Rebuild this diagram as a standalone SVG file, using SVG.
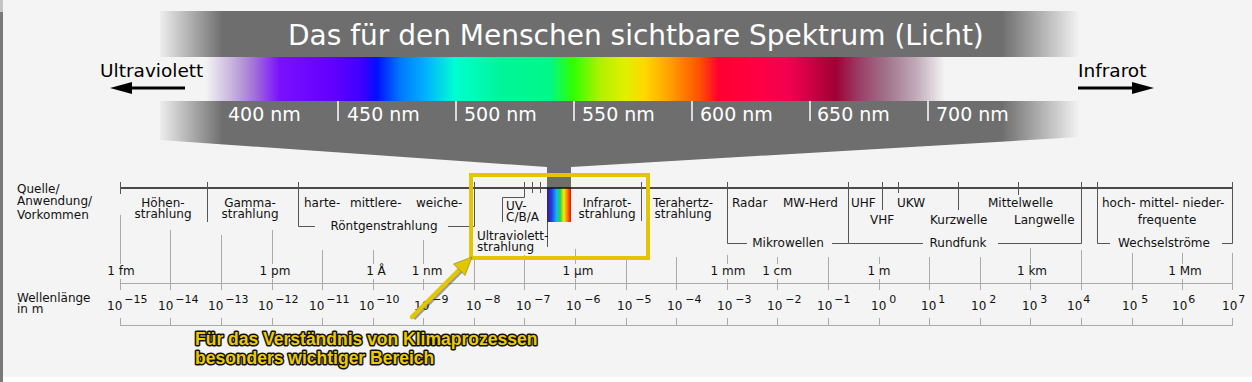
<svg xmlns="http://www.w3.org/2000/svg" width="1252" height="382" viewBox="0 0 1252 382">
<style>
.t{font-family:"DejaVu Sans",Verdana,sans-serif;font-size:12px;fill:#111}
.m{text-anchor:middle}
.nm{font-family:"DejaVu Sans",Verdana,sans-serif;font-size:19px;fill:#fff}
.ttl{font-family:"DejaVu Sans",Verdana,sans-serif;font-size:28px;fill:#fff}
.arr{font-family:"DejaVu Sans",Verdana,sans-serif;font-size:18.5px;fill:#000}
.sep{stroke:#555;stroke-width:1;fill:none}
.dec{stroke:#aaa;stroke-width:1;fill:none}
.ex{font-family:"DejaVu Sans",Verdana,sans-serif;font-size:12px;fill:#111}
.sup{font-size:11px}
.call{font-family:"Liberation Sans",Arial,sans-serif;font-weight:bold;font-size:17.5px;fill:#ebcb00;stroke:#111;stroke-width:3;stroke-linejoin:round;paint-order:stroke}
</style>
<defs>
<linearGradient id="grayFade" gradientUnits="userSpaceOnUse" x1="160" y1="0" x2="1080" y2="0">
<stop offset="0" stop-color="#6e6e6e" stop-opacity="0.05"/>
<stop offset="0.068" stop-color="#6e6e6e" stop-opacity="1"/>
<stop offset="0.915" stop-color="#6e6e6e" stop-opacity="1"/>
<stop offset="1" stop-color="#6e6e6e" stop-opacity="0"/>
</linearGradient>
<linearGradient id="spec" gradientUnits="userSpaceOnUse" x1="160" y1="0" x2="1080" y2="0">
<stop offset="0.049" stop-color="#f4f4f4"/>
<stop offset="0.078" stop-color="#c8b4dc"/>
<stop offset="0.103" stop-color="#a070d8"/>
<stop offset="0.130" stop-color="#7a10ff"/>
<stop offset="0.185" stop-color="#6400ff"/>
<stop offset="0.220" stop-color="#3c00ff"/>
<stop offset="0.236" stop-color="#0010ff"/>
<stop offset="0.261" stop-color="#0078ff"/>
<stop offset="0.288" stop-color="#00b0ff"/>
<stop offset="0.321" stop-color="#00ffd0"/>
<stop offset="0.370" stop-color="#00f59a"/>
<stop offset="0.424" stop-color="#00f888"/>
<stop offset="0.449" stop-color="#30ff00"/>
<stop offset="0.478" stop-color="#b0f000"/>
<stop offset="0.505" stop-color="#e0f000"/>
<stop offset="0.527" stop-color="#ffd800"/>
<stop offset="0.554" stop-color="#ffa000"/>
<stop offset="0.587" stop-color="#ff5000"/>
<stop offset="0.607" stop-color="#ff0030"/>
<stop offset="0.652" stop-color="#ff0045"/>
<stop offset="0.685" stop-color="#f00050"/>
<stop offset="0.734" stop-color="#a00035"/>
<stop offset="0.761" stop-color="#9a4068"/>
<stop offset="0.788" stop-color="#a07088"/>
<stop offset="0.821" stop-color="#c0a8b8"/>
<stop offset="0.853" stop-color="#f4f4f4"/>
</linearGradient>
<linearGradient id="mini" x1="0" y1="0" x2="1" y2="0">
<stop offset="0" stop-color="#3a1a8a"/>
<stop offset="0.2" stop-color="#2040e8"/>
<stop offset="0.4" stop-color="#10b8f0"/>
<stop offset="0.55" stop-color="#30d040"/>
<stop offset="0.7" stop-color="#f4f000"/>
<stop offset="0.82" stop-color="#ff9000"/>
<stop offset="1" stop-color="#e81010"/>
</linearGradient>
</defs>
<rect x="0" y="0" width="1252" height="382" fill="#f4f4f4"/>
<rect x="0" y="377" width="1252" height="5" fill="#ffffff"/>
<rect x="0" y="0" width="3" height="382" fill="#7a7a7a"/>
<rect x="0" y="0" width="3" height="12" fill="#c4c4c4"/>

<g id="banner">
<path d="M160,11 H1080 V137 L571,167 V188 H547 V167 L160,140 Z" fill="url(#grayFade)"/>
<rect x="160" y="57" width="920" height="44" fill="url(#spec)"/>
<text class="ttl" x="288" y="45">Das für den Menschen sichtbare Spektrum (Licht)</text>
<g stroke="#fff" stroke-width="1.5">
<line x1="338" y1="101" x2="338" y2="121"/>
<line x1="456" y1="101" x2="456" y2="121"/>
<line x1="574" y1="101" x2="574" y2="121"/>
<line x1="692" y1="101" x2="692" y2="121"/>
<line x1="810" y1="101" x2="810" y2="121"/>
<line x1="928" y1="101" x2="928" y2="121"/>
</g>
<text class="nm" x="228" y="121">400 nm</text>
<text class="nm" x="347" y="121">450 nm</text>
<text class="nm" x="464" y="121">500 nm</text>
<text class="nm" x="582" y="121">550 nm</text>
<text class="nm" x="700" y="121">600 nm</text>
<text class="nm" x="817" y="121">650 nm</text>
<text class="nm" x="936" y="121">700 nm</text>
<rect x="547" y="188" width="24" height="34" fill="url(#mini)"/>
</g>

<g id="uv-arrow">
<text class="arr" x="100" y="77">Ultraviolett</text>
<line x1="185" y1="88" x2="128" y2="88" stroke="#000" stroke-width="3"/>
<polygon points="110,88 132,82 132,94" fill="#000"/>
</g>
<g id="ir-arrow">
<text class="arr" x="1078" y="77">Infrarot</text>
<line x1="1078" y1="88" x2="1136" y2="88" stroke="#000" stroke-width="3"/>
<polygon points="1154,88 1132,82 1132,94" fill="#000"/>
</g>

<g id="row-labels">
<text class="t" x="17" y="193">Quelle/</text>
<text class="t" x="17" y="205">Anwendung/</text>
<text class="t" x="17" y="219">Vorkommen</text>
<text class="t" x="17" y="302">Wellenlänge</text>
<text class="t" x="17" y="313">in m</text>
</g>

<g id="connectors">
<line x1="120" y1="188" x2="1233" y2="188" stroke="#111" stroke-width="1.5"/>
<path class="sep" d="M120.5,182V194 M207.5,182V222 M298.5,182V226.5H315 M448,226.5H474.5V182 M502.5,222V197.5H524.5V182 M532.5,182V193 M540.5,182V193 M547.5,222V247 M641.5,182V221 M727.5,182V243.5H747 M832,243.5H848.5V182 M848.5,243.5H923 M882.5,182V210 M898.5,182V193 M958.5,182V210 M1018.5,182V195 M998,243.5H1081.5V182 M1097.5,182V243.5H1110 M1222,243.5H1232.5V182"/>
<path class="dec" d="M120.5,215V264M120.5,279V290 M170.5,230V290 M221.5,235V290 M272.5,230V264M272.5,279V290 M322.5,250V290 M373.5,250V264M373.5,279V290 M423.5,240V264M423.5,279V290 M474.5,257V290 M524.5,255V290 M575.5,249V264M575.5,279V290 M626.5,257V290 M676.5,257V290 M727.5,255V264M727.5,279V290 M777.5,257V264M777.5,279V290 M828.5,257V290 M879.5,257V264M879.5,279V290 M929.5,257V290 M980.5,257V290 M1030.5,248V264M1030.5,279V290 M1081.5,250V290 M1132.5,253V290 M1182.5,253V264M1182.5,279V290 M1232.5,253V290"/>
<path class="dec" d="M120,283.5H1233 M120,325.5H1233"/>
<path class="dec" d="M120.5,318V325 M170.5,318V325 M221.5,318V325 M272.5,318V325 M322.5,318V325 M373.5,318V325 M423.5,318V325 M474.5,318V325 M524.5,318V325 M575.5,318V325 M626.5,318V325 M676.5,318V325 M727.5,318V325 M777.5,318V325 M828.5,318V325 M879.5,318V325 M929.5,318V325 M980.5,318V325 M1030.5,318V325 M1081.5,318V325 M1132.5,318V325 M1182.5,318V325 M1232.5,318V325"/>
</g>

<g id="hoehen"><text class="t m" x="163" y="207">Höhen-</text><text class="t m" x="163" y="218">strahlung</text></g>
<g id="gamma"><text class="t m" x="250" y="207">Gamma-</text><text class="t m" x="250" y="218">strahlung</text></g>
<g id="roentgen">
<text class="t" x="304" y="207">harte-</text>
<text class="t" x="350" y="207">mittlere-</text>
<text class="t" x="416" y="207">weiche-</text>
<text class="t m" x="384" y="230">Röntgenstrahlung</text>
</g>
<g id="uv-cba"><text class="t" x="506" y="210">UV-</text><text class="t" x="506" y="221">C/B/A</text></g>
<g id="uv"><text class="t" x="477" y="240">Ultraviolett-</text><text class="t" x="477" y="251">strahlung</text></g>
<g id="infrarot"><text class="t m" x="607" y="207">Infrarot-</text><text class="t m" x="607" y="218">strahlung</text></g>
<g id="terahertz"><text class="t m" x="683" y="207">Terahertz-</text><text class="t m" x="683" y="218">strahlung</text></g>
<g id="mikrowellen">
<text class="t" x="732" y="207">Radar</text>
<text class="t" x="783" y="207">MW-Herd</text>
<text class="t m" x="788" y="247">Mikrowellen</text>
</g>
<g id="rundfunk">
<text class="t" x="851" y="207">UHF</text>
<text class="t" x="870" y="224">VHF</text>
<text class="t" x="897" y="207">UKW</text>
<text class="t" x="930" y="224">Kurzwelle</text>
<text class="t" x="988" y="207">Mittelwelle</text>
<text class="t" x="1014" y="224">Langwelle</text>
<text class="t m" x="958" y="247">Rundfunk</text>
</g>
<g id="wechsel">
<text class="t" x="1102" y="207">hoch- mittel- nieder-</text>
<text class="t m" x="1167" y="224">frequente</text>
<text class="t m" x="1164" y="247">Wechselströme</text>
</g>

<g id="units">
<text class="t m" x="121" y="275">1 fm</text>
<text class="t m" x="275" y="275">1 pm</text>
<text class="t m" x="376" y="275">1 Å</text>
<text class="t m" x="427" y="275">1 nm</text>
<text class="t m" x="578" y="275">1 μm</text>
<text class="t m" x="728" y="275">1 mm</text>
<text class="t m" x="777" y="275">1 cm</text>
<text class="t m" x="879" y="275">1 m</text>
<text class="t m" x="1032" y="275">1 km</text>
<text class="t m" x="1185" y="275">1 Mm</text>
</g>

<g id="exponents">
<text class="ex" x="107" y="310">10<tspan class="sup" dx="2" dy="-7">−15</tspan></text>
<text class="ex" x="158" y="310">10<tspan class="sup" dx="2" dy="-7">−14</tspan></text>
<text class="ex" x="208" y="310">10<tspan class="sup" dx="2" dy="-7">−13</tspan></text>
<text class="ex" x="258" y="310">10<tspan class="sup" dx="2" dy="-7">−12</tspan></text>
<text class="ex" x="309" y="310">10<tspan class="sup" dx="2" dy="-7">−11</tspan></text>
<text class="ex" x="359" y="310">10<tspan class="sup" dx="2" dy="-7">−10</tspan></text>
<text class="ex" x="414" y="310">10<tspan class="sup" dx="3" dy="-7">−9</tspan></text>
<text class="ex" x="466" y="310">10<tspan class="sup" dx="3" dy="-7">−8</tspan></text>
<text class="ex" x="516" y="310">10<tspan class="sup" dx="3" dy="-7">−7</tspan></text>
<text class="ex" x="566" y="310">10<tspan class="sup" dx="3" dy="-7">−6</tspan></text>
<text class="ex" x="617" y="310">10<tspan class="sup" dx="3" dy="-7">−5</tspan></text>
<text class="ex" x="667" y="310">10<tspan class="sup" dx="3" dy="-7">−4</tspan></text>
<text class="ex" x="717" y="310">10<tspan class="sup" dx="3" dy="-7">−3</tspan></text>
<text class="ex" x="767" y="310">10<tspan class="sup" dx="3" dy="-7">−2</tspan></text>
<text class="ex" x="817" y="310">10<tspan class="sup" dx="2" dy="-7">−1</tspan></text>
<text class="ex" x="871" y="310">10<tspan class="sup" dx="3" dy="-7">0</tspan></text>
<text class="ex" x="921" y="310">10<tspan class="sup" dx="2" dy="-7">1</tspan></text>
<text class="ex" x="971" y="310">10<tspan class="sup" dx="3" dy="-7">2</tspan></text>
<text class="ex" x="1022" y="310">10<tspan class="sup" dx="3" dy="-7">3</tspan></text>
<text class="ex" x="1067" y="310">10<tspan class="sup" dx="1" dy="-7">4</tspan></text>
<text class="ex" x="1122" y="310">10<tspan class="sup" dx="4" dy="-7">5</tspan></text>
<text class="ex" x="1172" y="310">10<tspan class="sup" dx="1" dy="-7">6</tspan></text>
<text class="ex" x="1222" y="310">10<tspan class="sup" dx="1" dy="-7">7</tspan></text>
</g>

<g id="highlight">
<rect x="471" y="175" width="177" height="83" fill="none" stroke="#e2c700" stroke-width="4"/>
<line x1="413.5" y1="318.5" x2="462" y2="270" stroke="#333" stroke-opacity="0.45" stroke-width="4.5"/>
<line x1="412" y1="317" x2="462" y2="267" stroke="#e2c700" stroke-width="4.5" stroke-linecap="round"/>
<polygon points="472,257 465,275.5 453.5,264" fill="#e2c700" stroke="#8a7a00" stroke-width="0.6"/>
</g>

<g id="callout">
<text class="call" x="195" y="345">Für das Verständnis von Klimaprozessen</text>
<text class="call" x="195" y="364">besonders wichtiger Bereich</text>
</g>
</svg>
